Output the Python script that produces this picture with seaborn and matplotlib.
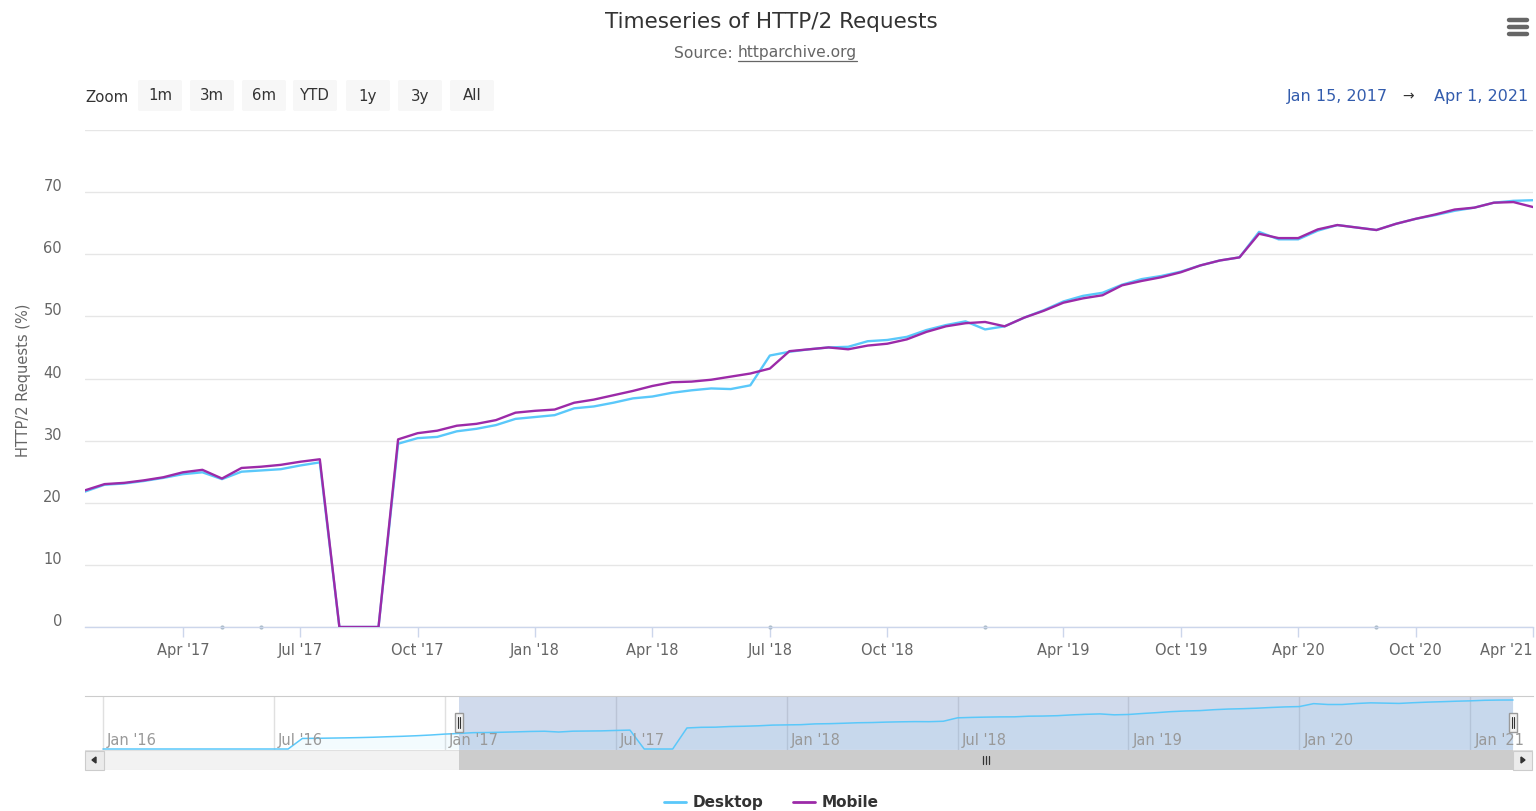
import numpy as np
import pandas as pd
import matplotlib
matplotlib.use("Agg")
import matplotlib.pyplot as plt
import seaborn as sns
from matplotlib.patches import Rectangle, FancyBboxPatch, Polygon
from matplotlib.transforms import ScaledTranslation, blended_transform_factory

# ------------------------------------------------------------------ data
# HTTP Archive crawl dates: twice a month until 2018, monthly from 2019
crawl_dates = (list(pd.date_range("2016-01-01", "2018-12-15", freq="SMS")) +
               list(pd.date_range("2019-01-01", "2021-04-01", freq="MS")))

desktop_2016 = [0, 0, 0, 0, 0, 0, 0, 0, 0, 0, 0, 0, 0, 0,
                14.8, 15.0, 15.3, 15.6, 16.0, 16.5, 17.2, 17.8, 18.6, 19.6]
desktop_2017 = [20.9, 21.8, 22.9, 23.1, 23.5, 24.0, 24.6, 24.9, 23.8, 25.0, 25.2, 25.4,
                26.0, 26.5, 0, 0, 0, 29.5, 30.4, 30.6, 31.5, 31.9, 32.5, 33.5]
desktop_2018 = [33.8, 34.1, 35.2, 35.5, 36.1, 36.8, 37.1, 37.7, 38.1, 38.4, 38.3, 38.9,
                43.7, 44.3, 44.7, 45.0, 45.1, 46.0, 46.2, 46.7, 47.8, 48.6, 49.2, 47.9]
desktop_2019 = [48.4, 49.8, 51.0, 52.4, 53.3, 53.8, 55.1, 56.0, 56.5, 57.2, 58.2, 59.0]
desktop_2020 = [59.5, 63.6, 62.4, 62.4, 63.8, 64.7, 64.3, 63.9, 64.9, 65.7, 66.3, 67.0]
desktop_2021 = [67.5, 68.3, 68.6, 68.7]

mobile_2016 = [np.nan] * 24
mobile_2017 = [np.nan, 22.0, 23.0, 23.2, 23.6, 24.1, 24.9, 25.3, 23.9, 25.6, 25.8, 26.1,
               26.6, 27.0, 0, 0, 0, 30.2, 31.2, 31.6, 32.4, 32.7, 33.3, 34.5]
mobile_2018 = [34.8, 35.0, 36.1, 36.6, 37.3, 38.0, 38.8, 39.4, 39.5, 39.8, 40.3, 40.8,
               41.6, 44.4, 44.7, 45.0, 44.7, 45.3, 45.6, 46.3, 47.5, 48.4, 48.9, 49.1]
mobile_2019 = [48.4, 49.8, 50.9, 52.2, 52.9, 53.4, 55.0, 55.7, 56.3, 57.1, 58.2, 59.0]
mobile_2020 = [59.5, 63.3, 62.6, 62.6, 64.0, 64.7, 64.3, 63.9, 64.9, 65.7, 66.4, 67.2]
mobile_2021 = [67.5, 68.3, 68.4, 67.6]

desktop = desktop_2016 + desktop_2017 + desktop_2018 + desktop_2019 + desktop_2020 + desktop_2021
mobile = mobile_2016 + mobile_2017 + mobile_2018 + mobile_2019 + mobile_2020 + mobile_2021

range_start, range_end = "2017-01-15", "2021-04-01"
tick_dates = ["2017-04-01", "2017-07-01", "2017-10-01", "2018-01-01", "2018-04-01",
              "2018-07-01", "2018-10-01", "2019-04-01", "2019-10-01", "2020-04-01",
              "2020-10-01", "2021-04-01"]
tick_labels = ["Apr '17", "Jul '17", "Oct '17", "Jan '18", "Apr '18", "Jul '18",
               "Oct '18", "Apr '19", "Oct '19", "Apr '20", "Oct '20", "Apr '21"]
nav_tick_dates = ["2016-01-01", "2016-07-01", "2017-01-01", "2017-07-01", "2018-01-01",
                  "2018-07-01", "2019-01-01", "2020-01-01", "2021-01-01"]
nav_tick_labels = ["Jan '16", "Jul '16", "Jan '17", "Jul '17", "Jan '18", "Jul '18",
                   "Jan '19", "Jan '20", "Jan '21"]
flag_dates = ["2017-05-01", "2017-06-01", "2018-07-01", "2018-12-15", "2020-08-01"]
y_ticks = [0, 10, 20, 30, 40, 50, 60, 70, 80]
zoom_buttons = ["1m", "3m", "6m", "YTD", "1y", "3y", "All"]
series_names = ["Desktop", "Mobile"]

# ------------------------------------------------------------------ style
C_DESK = "#5ac8fa"
C_MOB = "#9c2aa8"
sns.set_style("white")
plt.rcParams["font.family"] = ["DejaVu Sans"]

pos = {d.strftime("%Y-%m-%d"): i for i, d in enumerate(crawl_dates)}
idx = np.arange(len(crawl_dates))
df = pd.DataFrame({"idx": idx, "Desktop": desktop, "Mobile": mobile})
long = df.melt(id_vars="idx", var_name="series", value_name="value").dropna()

W, H = 1536, 812
fig = plt.figure(figsize=(W / 100, H / 100), dpi=100)
fig.patch.set_facecolor("white")


def frac(x0, y0, x1, y1):
    return [x0 / W, 1 - y1 / H, (x1 - x0) / W, (y1 - y0) / H]


# ------------------------------------------------------------------ main chart
ax = fig.add_axes(frac(85, 131, 1533, 628))
sns.lineplot(data=long, x="idx", y="value", hue="series", hue_order=series_names,
             palette={"Desktop": C_DESK, "Mobile": C_MOB}, estimator=None,
             linewidth=1.7, legend=False, ax=ax, zorder=3)
flag_idx = [pos[d] for d in flag_dates]
ax.scatter(flag_idx, [0] * len(flag_idx), s=9, color="#a7b9c6", zorder=2, clip_on=False,
           linewidths=0)
ax.set_xlim(pos[range_start], pos[range_end])
ax.set_ylim(0, 80)
ax.set_xlabel("")
ax.set_ylabel("")
ax.set_yticks(y_ticks)
ax.set_yticklabels([str(v) if v < 80 else "" for v in y_ticks])
ax.yaxis.grid(True, color="#e6e6e6", linewidth=1)
ax.xaxis.grid(False)
ax.set_axisbelow(True)
ax.tick_params(axis="y", length=0, pad=16.5, labelsize=10.5, labelcolor="#666666")
for lab in ax.get_yticklabels():
    lab.set_transform(lab.get_transform() + ScaledTranslation(0, 0.08, fig.dpi_scale_trans))
ax.set_xticks([pos[d] for d in tick_dates])
ax.set_xticklabels(tick_labels)
ax.tick_params(axis="x", length=7, width=1, color="#ccd6eb", pad=3.5, labelsize=10.5,
               labelcolor="#666666", bottom=True)
ax.get_xticklabels()[-1].set_horizontalalignment("right")
for s in ["top", "right", "left"]:
    ax.spines[s].set_visible(False)
ax.spines["bottom"].set_color("#ccd6eb")
ax.spines["bottom"].set_linewidth(1)

# ------------------------------------------------------------------ navigator
nav = fig.add_axes(frac(85, 697, 1533, 751))
nav_x = (-1.26, 100.4)
sns.lineplot(x=idx, y=desktop, color=C_DESK, linewidth=1.1, ax=nav, zorder=3)
nav.fill_between(idx, desktop, 0, color=C_DESK, alpha=0.07, linewidth=0, zorder=2)
nav.axvspan(pos[range_start], pos[range_end], color=(102 / 255, 133 / 255, 194 / 255),
            alpha=0.3, linewidth=0, zorder=1)
nav.set_xlim(*nav_x)
nav.set_ylim(-1.4, 74.3)
nav.set_xticks([pos[d] for d in nav_tick_dates])
nav.set_xticklabels([])
nav.set_yticks([])
nav.tick_params(axis="x", length=0)
nav.xaxis.grid(True, color="#e0e0e0", linewidth=1)
nav.set_axisbelow(True)
for s in ["bottom", "right", "left"]:
    nav.spines[s].set_visible(False)
nav.spines["top"].set_color("#cccccc")
trans_nav = blended_transform_factory(nav.transData, nav.transAxes)
for d, lab in zip(nav_tick_dates, nav_tick_labels):
    nav.text(pos[d], 0.2, lab, transform=trans_nav + ScaledTranslation(0.04, 0, fig.dpi_scale_trans),
             ha="left", va="center", fontsize=10.5, color="#999999", zorder=4)

# ------------------------------------------------------------------ scrollbar
sb = fig.add_axes(frac(85, 751, 1533, 771))
sb.set_xlim(*nav_x)
sb.set_ylim(0, 1)
sb.axis("off")
sb.add_patch(Rectangle((0, 0), 1, 1, transform=sb.transAxes, facecolor="#f2f2f2",
                       edgecolor="#e0e0e0", linewidth=0.8))
sb.add_patch(Rectangle((pos[range_start], 0.02), pos[range_end] - pos[range_start], 0.96,
                       facecolor="#cccccc", edgecolor="#cccccc", linewidth=0))

# ------------------------------------------------------------------ overlay (pixel coords)
ov = fig.add_axes([0, 0, 1, 1], zorder=10)
ov.set_xlim(0, W)
ov.set_ylim(H, 0)
ov.axis("off")
ov.patch.set_visible(False)

# scrollbar buttons
for x0 in (85, 1513):
    ov.add_patch(Rectangle((x0, 752), 19, 19, facecolor="#ebebeb", edgecolor="#cccccc",
                           linewidth=0.8))
ov.add_patch(Polygon([[96, 758], [96, 764], [92, 761]], closed=True, color="#333333"))
ov.add_patch(Polygon([[1521, 758], [1521, 764], [1525, 761]], closed=True, color="#333333"))

# handles + rifles
fig.canvas.draw()
def nav_px(i):
    return nav.transData.transform((i, 0))[0]

for i in (pos[range_start], pos[range_end]):
    hx = nav_px(i)
    ov.add_patch(Rectangle((hx - 4, 714), 8, 19, facecolor="#f2f2f2", edgecolor="#999999",
                           linewidth=1, zorder=5))
    for dx in (-1.3, 1.3):
        ov.plot([hx + dx, hx + dx], [718, 729], color="#333333", linewidth=0.8, zorder=6)
cx = (nav_px(pos[range_start]) + nav_px(pos[range_end])) / 2
for dx in (-3, 0, 3):
    ov.plot([cx + dx, cx + dx], [757, 765], color="#333333", linewidth=0.9)

# title / subtitle
ov.text(771, 22, "Timeseries of HTTP/2 Requests", ha="center", va="center", fontsize=15.5,
        color="#333333")
t1 = ov.text(738, 53, "Source: ", ha="right", va="center", fontsize=11.2, color="#666666")
t2 = ov.text(738, 53, "httparchive.org", ha="left", va="center", fontsize=11.2,
             color="#666666")
fig.canvas.draw()
bb = t2.get_window_extent()
ov.plot([bb.x0, bb.x1], [H - bb.y0 + 1, H - bb.y0 + 1], color="#666666", linewidth=0.9)

# hamburger menu
for y in (21, 28, 35):
    ov.plot([1509, 1527], [y, y], color="#666666", linewidth=3.2, solid_capstyle="round")

# zoom buttons
ov.text(85, 97, "Zoom", ha="left", va="center", fontsize=10.8, color="#333333")
btn_x = [138, 190, 242, 293, 346, 398, 450]
for x0, lab in zip(btn_x, zoom_buttons):
    ov.add_patch(FancyBboxPatch((x0, 81), 44, 31, boxstyle="round,pad=0,rounding_size=2",
                                facecolor="#f7f7f7", edgecolor="none"))
    ov.text(x0 + 22, 96, lab, ha="center", va="center", fontsize=10.8, color="#333333")

# range display
ov.text(1388, 96, "Jan 15, 2017", ha="right", va="center", fontsize=11.5, color="#335cad")
ov.text(1408, 96, "\u2192", ha="center", va="center", fontsize=10, color="#333333")
ov.text(1528, 96, "Apr 1, 2021", ha="right", va="center", fontsize=11.5, color="#335cad")

# y-axis title
ov.text(24, 380, "HTTP/2 Requests (%)", rotation=90, ha="center", va="center",
        fontsize=10.5, color="#666666")

# legend
ov.plot([664, 686], [803, 803], color=C_DESK, linewidth=2)
ov.text(693, 803, series_names[0], ha="left", va="center", fontsize=11, fontweight="bold",
        color="#333333")
ov.plot([793, 815], [803, 803], color=C_MOB, linewidth=2)
ov.text(822, 803, series_names[1], ha="left", va="center", fontsize=11, fontweight="bold",
        color="#333333")

fig.savefig("out.png", dpi=100, facecolor="white")
